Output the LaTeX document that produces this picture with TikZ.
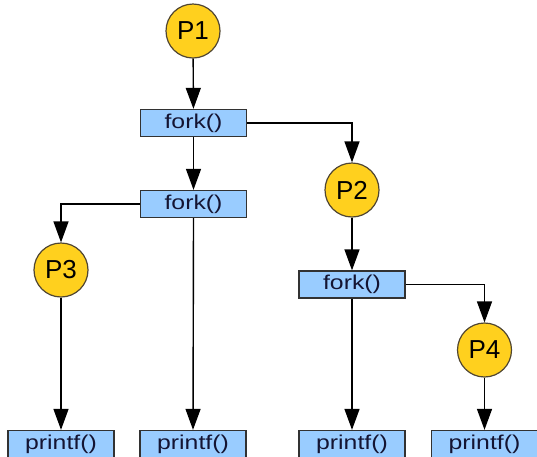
\documentclass[tikz,border=0pt]{standalone}
\usepackage{fontspec}
\setmainfont{Liberation Sans}
\newfontfamily\boxfont[FakeStretch=1.24]{Liberation Sans}
\usetikzlibrary{arrows.meta}
\definecolor{procfill}{RGB}{255,208,30}
\definecolor{procline}{RGB}{80,70,50}
\definecolor{callfill}{RGB}{153,204,255}
\definecolor{callline}{RGB}{50,50,50}
\definecolor{calltext}{RGB}{20,20,50}
\tikzset{
  proc/.style={circle, draw=procline, fill=procfill, line width=1.2pt, minimum size=54pt, inner sep=0pt, font=\fontsize{26}{26}\selectfont},
  call/.style={rectangle, draw=callline, fill=callfill, line width=1.3pt, minimum width=106pt, minimum height=27pt, inner sep=0pt, text=calltext, font=\boxfont\fontsize{20}{20}\selectfont},
  link/.style={draw=black, line width=1.4pt, -{Triangle[length=21pt, width=15pt]}}
}
\begin{document}
\begin{tikzpicture}[x=1pt, y=-1pt]
\useasboundingbox (0,0) rectangle (537,456);
\node[proc] (p1) at (193,31) {P1};
\node[call] (f1) at (193.5,123) {fork()};
\node[call] (f2) at (193.5,204) {fork()};
\node[proc] (p2) at (352,190) {P2};
\node[proc] (p3) at (61,270) {P3};
\node[call] (f3) at (352,284.5) {fork()};
\node[proc] (p4) at (484.5,350) {P4};
\node[call] (pr1) at (61,444) {printf()};
\node[call] (pr2) at (193,444) {printf()};
\node[call] (pr3) at (352,444) {printf()};
\node[call] (pr4) at (484.5,444) {printf()};
\draw[link] (p1) -- (f1);
\draw[link] (f1) -- (f2);
\draw[link] (f1.east) -| (p2.north);
\draw[link] (f2.west) -| (p3.north);
\draw[link] (p3) -- (pr1);
\draw[link] (f2.south) -- (pr2.north);
\draw[link] (p2) -- (f3);
\draw[link] (f3) -- (pr3);
\draw[link] (f3.east) -| (p4.north);
\draw[link] (p4) -- (pr4);
\end{tikzpicture}
\end{document}
